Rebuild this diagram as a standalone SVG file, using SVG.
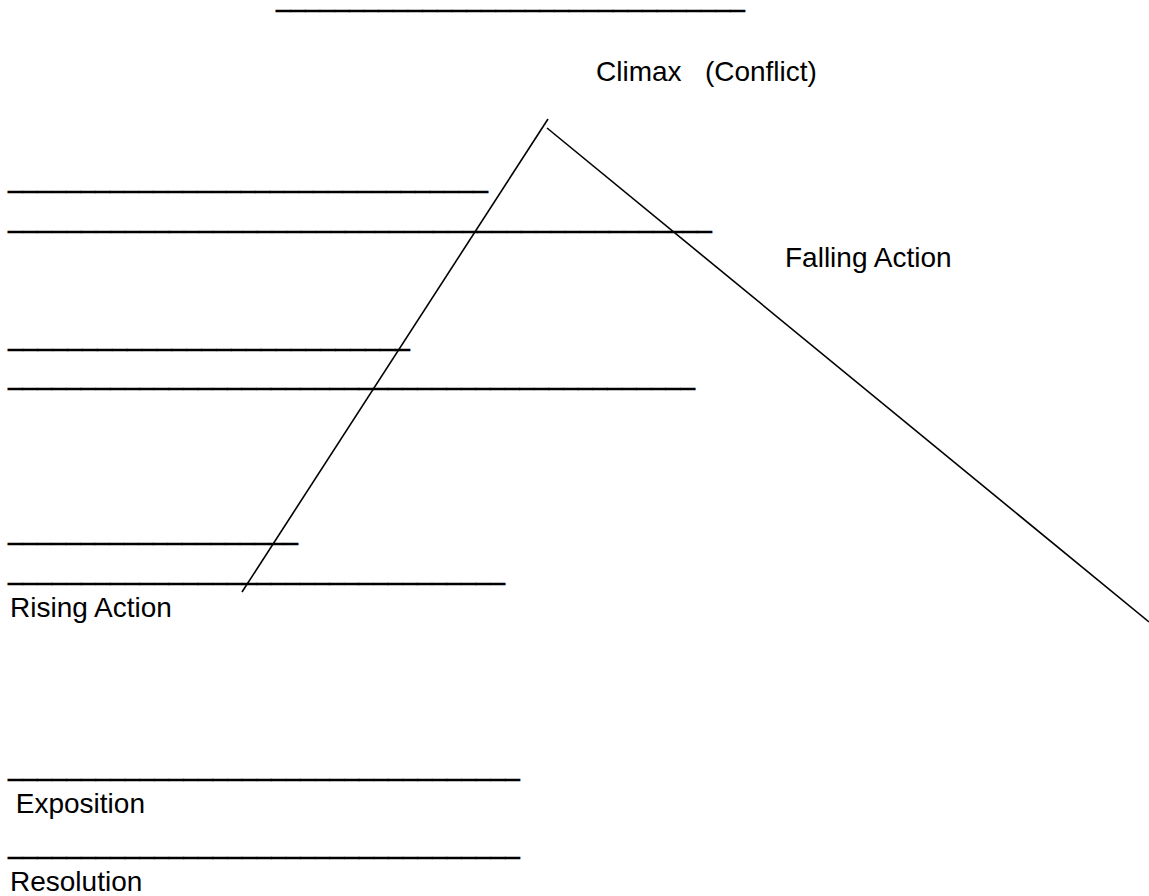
<svg xmlns="http://www.w3.org/2000/svg" width="1149" height="896" viewBox="0 0 1149 896">
<style>
.lbl{font-family:"Liberation Sans",Arial,sans-serif;font-size:28px;fill:#000}
.blank{font-family:"Liberation Sans",Arial,sans-serif;font-size:34px;fill:#000;stroke:#000;stroke-width:0.3}
.conn{stroke:#000;stroke-width:1.6;fill:none;stroke-linecap:butt}
</style>
<rect width="1149" height="896" fill="#fff"/>
<g id="blanks">
<text class="blank" x="276" y="5" textLength="469" lengthAdjust="spacingAndGlyphs">________________________________</text>
<text class="blank" x="8" y="186" textLength="480" lengthAdjust="spacingAndGlyphs">_________________________________</text>
<text class="blank" x="8" y="226" textLength="704" lengthAdjust="spacingAndGlyphs">________________________________________________</text>
<text class="blank" x="8" y="344" textLength="402" lengthAdjust="spacingAndGlyphs">___________________________</text>
<text class="blank" x="8" y="383" textLength="687" lengthAdjust="spacingAndGlyphs">_______________________________________________</text>
<text class="blank" x="8" y="538" textLength="290" lengthAdjust="spacingAndGlyphs">____________________</text>
<text class="blank" x="8" y="578" textLength="497" lengthAdjust="spacingAndGlyphs">__________________________________</text>
<text class="blank" x="8" y="774" textLength="512" lengthAdjust="spacingAndGlyphs">___________________________________</text>
<text class="blank" x="8" y="852" textLength="512" lengthAdjust="spacingAndGlyphs">___________________________________</text>
</g>
<g id="climax"><text class="lbl" x="596" y="81" xml:space="preserve">Climax   (Conflict)</text></g>
<g id="falling-action"><text class="lbl" x="785" y="267">Falling Action</text></g>
<g id="rising-action"><text class="lbl" x="10" y="617">Rising Action</text></g>
<g id="exposition"><text class="lbl" x="8" y="813" xml:space="preserve"> Exposition</text></g>
<g id="resolution"><text class="lbl" x="10" y="891">Resolution</text></g>
<g id="connectors">
<line class="conn" x1="242" y1="592" x2="548" y2="119"/>
<line class="conn" x1="547" y1="128" x2="1149" y2="622"/>
</g>
</svg>
